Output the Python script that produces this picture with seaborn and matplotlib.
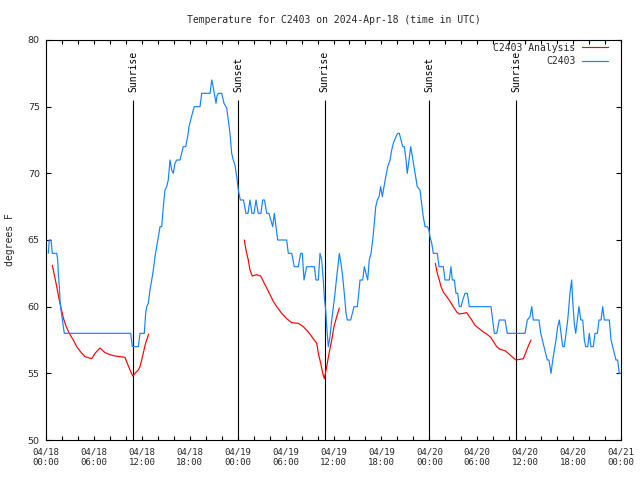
import matplotlib
matplotlib.use("Agg")
import matplotlib.pyplot as plt
import matplotlib.dates as mdates
import pandas as pd
import seaborn as sns

# ---------------- data ----------------
start = pd.Timestamp("2024-04-18 00:00")
title = "Temperature for C2403 on 2024-Apr-18 (time in UTC)"

# observed station temperature (hours since 04/18 00:00 UTC, degrees F)
obs_hours = [0.29, 0.41, 0.63, 0.79, 1.34, 1.47, 1.54, 1.67, 1.75, 1.88, 2.00, 2.17, 2.29,
             10.61, 10.81, 11.56, 11.77, 12.31, 12.48, 12.61, 12.81, 13.02, 13.24, 13.44,
             13.65, 13.86, 14.06, 14.28, 14.49, 14.69, 14.90, 15.11, 15.31, 15.53, 15.74,
             15.94, 16.15, 16.37, 16.78, 16.99, 17.19, 17.49, 17.74, 17.91, 18.12, 18.37,
             18.57, 19.28, 19.50, 20.54, 20.75, 20.87, 21.07, 21.29, 21.41, 21.58, 22.00,
             22.29, 22.63, 22.83, 23.04, 23.25, 23.45, 23.67, 23.88, 24.08, 24.33, 24.73,
             25.04, 25.29, 25.54, 25.79, 26.04, 26.30, 26.58, 26.92, 27.13, 27.36, 27.64,
             27.92, 28.14, 28.39, 28.59, 28.80, 29.01, 30.14, 30.34, 30.77, 31.09, 31.59,
             31.89, 32.09, 32.31, 32.64, 33.60, 33.81, 34.10, 34.31, 34.52, 34.72, 34.85,
             35.02, 35.15, 35.35, 35.56, 35.78, 35.98, 36.19, 36.40, 36.60, 36.73, 36.94,
             37.15, 37.35, 37.57, 37.73, 38.15, 38.36, 38.57, 38.98, 39.16, 39.32, 39.66,
             39.86, 40.07, 40.28, 40.48, 40.70, 40.91, 41.11, 41.29, 41.49, 41.70, 41.91,
             42.11, 42.32, 42.54, 42.79, 43.08, 43.29, 43.49, 43.83, 44.04, 44.24, 44.45,
             44.67, 44.87, 45.08, 45.24, 45.45, 45.67, 45.87, 46.08, 46.29, 46.49, 46.83,
             47.04, 47.24, 47.46, 47.75, 47.96, 48.08, 48.30, 48.50, 49.00, 49.21, 49.75,
             49.96, 50.50, 50.71, 50.88, 51.13, 51.34, 51.55, 51.75, 51.97, 52.18, 52.47,
             52.76, 53.01, 55.72, 55.93, 56.14, 56.44, 56.76, 57.48, 57.76, 59.98, 60.27,
             60.61, 60.82, 61.02, 61.73, 61.95, 62.15, 62.36, 62.57, 62.77, 62.98, 63.24,
             63.45, 63.65, 63.86, 64.07, 64.28, 64.49, 64.70, 64.90, 65.11, 65.33, 65.61,
             65.82, 65.95, 66.15, 66.33, 66.53, 66.74, 66.96, 67.21, 67.41, 67.58, 67.83,
             68.03, 68.24, 68.53, 68.75, 69.04, 69.25, 69.50, 69.71, 69.91, 70.54, 70.75,
             70.96, 71.16, 71.37, 71.58, 71.78, 71.95]
obs_temp = [64, 65, 65, 64, 64, 63.5, 62.5, 61.5, 60.5, 59.75, 59.25, 58.5, 58,
            58, 57, 57, 58, 58, 59.5, 60, 60.25, 61.25, 62, 62.75,
            63.75, 64.5, 65.25, 66, 66, 67.5, 68.75, 69, 69.5, 71, 70.25,
            70, 70.75, 71, 71, 71.5, 72, 72, 72.75, 73.5, 74, 74.6,
            75, 75, 76, 76, 77, 76.7, 76, 75.25, 75.8, 76, 76,
            75.25, 74.9, 74, 73, 71.5, 71, 70.6, 69.75, 68.75, 68, 68,
            67, 67, 68, 67, 67, 68, 67, 67, 68, 68, 67,
            67, 66.5, 66, 67, 66, 65, 65, 64, 64, 63, 63,
            64, 64, 62, 63, 63, 62, 62, 64, 63.5, 62, 60.75,
            59.75, 58.5, 57, 57.75, 59, 60, 61, 62.25, 63.25, 64, 63.25,
            62.25, 61, 59.5, 59, 59, 59.5, 60, 60, 61, 62, 62,
            63, 62.5, 62, 63.5, 64, 65, 66.25, 67.5, 68, 68.25, 69,
            68.25, 69, 69.75, 70.5, 71, 71.75, 72.25, 72.75, 73, 73, 72.5,
            72, 72, 71, 70, 71, 72, 71.25, 70.5, 69.75, 69, 68.75,
            67.75, 66.75, 66, 66, 65.75, 65.25, 64.75, 64, 64, 63, 63,
            62, 62, 63, 62, 62, 61, 61, 60, 60, 60.5, 61,
            61, 60, 60, 59, 58, 58, 59, 59, 58, 58, 59,
            59.25, 60, 59, 59, 58, 57.5, 57, 56.5, 56, 56, 55,
            56, 56.75, 57.5, 58.5, 59, 58, 57, 57, 58, 59, 61,
            62, 60.5, 58.75, 58, 59, 60, 59, 59, 57.5, 57, 57,
            58, 57, 57, 58, 58, 59, 59, 60, 59, 59, 57.5,
            57, 56.5, 56, 56, 55, 55]

# analysis temperature, three separate runs
ana1_hours = [0.79, 1.00, 1.21, 1.42, 1.63, 1.84, 2.04, 2.25, 2.47, 2.72, 3.01, 3.42, 3.84,
              4.35, 4.88, 5.72, 6.14, 6.76, 7.39, 8.01, 8.64, 9.89, 10.18, 10.52, 10.86,
              11.14, 11.56, 11.77, 11.98, 12.18, 12.40, 12.61, 12.86]
ana1_temp = [63.1, 62.5, 61.9, 61.25, 60.6, 60, 59.5, 59, 58.6, 58.25, 57.9, 57.5, 57,
             56.6, 56.25, 56.1, 56.5, 56.9, 56.55, 56.4, 56.3, 56.2, 55.75, 55.25, 54.8,
             55, 55.25, 55.5, 56, 56.5, 57.1, 57.5, 57.95]
ana2_hours = [24.83, 25.04, 25.33, 25.54, 25.83, 26.38, 26.88, 27.21, 27.64, 28.05, 28.46,
              28.89, 29.51, 30.14, 30.77, 31.59, 32.22, 32.85, 33.47, 33.90, 34.10, 34.40,
              34.65, 34.85, 35.15, 35.44, 35.78, 36.06, 36.40, 36.73]
ana2_temp = [65, 64.25, 63.5, 62.75, 62.3, 62.4, 62.3, 61.9, 61.4, 60.9, 60.4,
             60, 59.5, 59.1, 58.8, 58.75, 58.5, 58.1, 57.6, 57.25, 56.5, 55.75,
             55, 54.6, 55.5, 56.5, 57.5, 58.5, 59.25, 59.9]
ana3_hours = [48.75, 49.00, 49.25, 49.46, 49.75, 50.18, 50.59, 51.00, 51.43, 51.75, 52.25,
              52.68, 53.01, 53.31, 53.72, 54.14, 54.76, 55.18, 55.69, 56.01, 56.44, 56.85,
              57.48, 57.89, 58.44, 58.85, 59.35, 59.77, 60.11, 60.39, 60.73]
ana3_temp = [63.25, 62.5, 62, 61.5, 61.1, 60.75, 60.4, 60, 59.6, 59.45, 59.5,
             59.55, 59.25, 59, 58.6, 58.4, 58.1, 57.95, 57.7, 57.4, 57, 56.8,
             56.7, 56.5, 56.2, 56, 56.05, 56.1, 56.6, 57.05, 57.5]

sun_hours = [10.92, 24.07, 34.88, 48.0, 58.88]
sun_labels = ["Sunrise", "Sunset", "Sunrise", "Sunset", "Sunrise"]

series_names = ["C2403 Analysis", "C2403"]
series_colors = ["#ff0000", "#1482ff"]

# ---------------- build table ----------------
def frame(hours, temps, name, seg):
    return pd.DataFrame({
        "time": start + pd.to_timedelta(hours, unit="h"),
        "temp": temps,
        "series": name,
        "seg": seg,
    })

df = pd.concat([
    frame(ana1_hours, ana1_temp, series_names[0], 1),
    frame(ana2_hours, ana2_temp, series_names[0], 2),
    frame(ana3_hours, ana3_temp, series_names[0], 3),
    frame(obs_hours, obs_temp, series_names[1], 4),
], ignore_index=True)

# ---------------- plot ----------------
sns.set_theme(style="ticks")
plt.rcParams["font.family"] = ["DejaVu Sans Mono", "DejaVu Sans"]
plt.rcParams["axes.linewidth"] = 0.8

fig = plt.figure(figsize=(6.4, 4.8), dpi=100)
ax = fig.add_axes([46 / 640, 40 / 480, 575 / 640, 400 / 480])

sns.lineplot(data=df, x="time", y="temp", hue="series", units="seg",
             estimator=None, hue_order=series_names, palette=series_colors,
             sort=False, linewidth=0.85, ax=ax)

for h, lab in zip(sun_hours, sun_labels):
    t = start + pd.Timedelta(hours=h)
    ax.vlines(t, 50, 75.5, color="black", linewidth=0.8, zorder=1)
    ax.text(t, 76.1, lab, rotation=90, ha="center", va="bottom",
            fontsize=7, color="black")

ax.set_xlim(start, start + pd.Timedelta(hours=72))
ax.set_ylim(50, 80)
ax.set_yticks(range(50, 81, 5))
ax.xaxis.set_major_locator(mdates.HourLocator(byhour=[0, 6, 12, 18]))
ax.xaxis.set_minor_locator(mdates.HourLocator(interval=2))
ax.xaxis.set_major_formatter(mdates.DateFormatter("%m/%d\n%H:%M"))

ax.tick_params(axis="both", which="both", direction="in", top=True, right=True,
               color="black", width=0.8)
ax.tick_params(axis="x", which="both", length=3.2, labelsize=6.5, pad=5.5)
ax.tick_params(axis="y", which="major", length=3.8, labelsize=6.8, pad=4.5)
for lbl in ax.get_yticklabels():
    lbl.set_fontfamily("DejaVu Sans")
for sp in ax.spines.values():
    sp.set_color("black")

ax.set_xlabel("")
ax.set_ylabel("degrees F", fontsize=7)
ax.yaxis.set_label_coords((15 - 46) / 575, 0.5)

fig.text(333.5 / 640, 1 - 20 / 480, title, ha="center", va="center", fontsize=7)

handles, labels = ax.get_legend_handles_labels()
ax.legend(handles, labels, loc="upper right", bbox_to_anchor=(0.977, 0.993),
          frameon=False, markerfirst=False, handlelength=2.6, fontsize=7,
          labelspacing=0.35, borderaxespad=0, handletextpad=0.7, borderpad=0)

fig.savefig("out.png", dpi=100, facecolor="white")
